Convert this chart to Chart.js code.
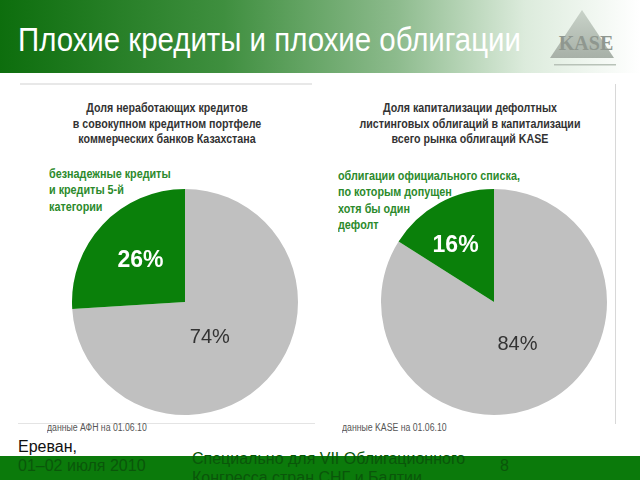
<!DOCTYPE html>
<html>
<head>
<meta charset="utf-8">
<script src="https://cdn.jsdelivr.net/npm/chart.js@4"></script>
<style>
  body { margin: 0; width: 640px; height: 480px; overflow: hidden; background: #fff; position: relative; font-family: "Liberation Sans", Arial, sans-serif; }
  .header { position: absolute; left: 0; top: 0; width: 640px; height: 73px;
    background: linear-gradient(to right, #0d6e0d 0%, #3f8f3f 35%, #8dbb8d 62%, #dcebdc 82%, #ffffff 100%); }
  .header h1 { position: absolute; left: 18px; top: 19px; margin: 0; font-family: "Liberation Sans", Arial, sans-serif;
    font-weight: normal; font-size: 34px; line-height: 40px; color: #fff; white-space: nowrap;
    transform: scaleX(0.865); transform-origin: left center; }
  .logo { position: absolute; left: 546px; top: 6px; width: 76px; height: 64px; }
  .hr { position: absolute; left: 20px; top: 83px; width: 292px; height: 2px; background: #e8e8e8; }
  .vr { position: absolute; left: 615px; top: 84px; width: 1px; height: 340px; background: #d8d8d8; }
  .bl { position: absolute; left: 18px; top: 423px; width: 297px; height: 1px; background: #e4e4e4; }
  .title { position: absolute; font-weight: bold; font-size: 13px; line-height: 15.5px; color: #333;
    text-align: center; white-space: nowrap; transform: scaleX(0.82); transform-origin: center top; }
  .note { position: absolute; font-weight: bold; font-size: 13px; line-height: 16.3px; color: #2c8a2c;
    white-space: nowrap; transform: scaleX(0.83); transform-origin: left top; }
  .src { position: absolute; font-size: 10px; color: #555; white-space: nowrap; transform: scaleX(0.87); transform-origin: left top; }
  canvas { position: absolute; }
  .footer { position: absolute; left: 0; top: 456px; width: 640px; height: 24px; background: #0b7a0b; }
  .ft { position: absolute; font-size: 16px; white-space: nowrap; line-height: 19px; }
</style>
</head>
<body>
<div class="header">
  <h1>Плохие кредиты и плохие облигации</h1>
  <svg class="logo" viewBox="0 0 76 64">
    <defs>
      <linearGradient id="tri" x1="0" y1="0" x2="0" y2="1">
        <stop offset="0" stop-color="#c9d3c9"/>
        <stop offset="1" stop-color="#a7b0a7"/>
      </linearGradient>
    </defs>
    <polygon points="36,4 68,52 4,52" fill="url(#tri)"/>
    <text x="40" y="44" text-anchor="middle" font-family="Liberation Serif, serif" font-size="20" fill="#8f978f" font-weight="bold">KASE</text>
    <rect x="8" y="58" width="62" height="1.5" fill="#b8c2b8"/>
  </svg>
</div>
<div class="hr"></div>
<div class="vr"></div>
<div class="bl"></div>

<div class="title" style="left:37px; top:100px; width:260px;">Доля неработающих кредитов<br>в совокупном кредитном портфеле<br>коммерческих банков Казахстана</div>
<div class="note" style="left:49px; top:166px;">безнадежные кредиты<br>и кредиты 5-й<br>категории</div>
<div class="title" style="left:330px; top:100px; width:280px;">Доля капитализации дефолтных<br>листинговых облигаций в капитализации<br>всего рынка облигаций KASE</div>
<div class="note" style="left:338px; top:168px;">облигации официального списка,<br>по которым допущен<br>хотя бы один<br>дефолт</div>

<canvas id="pieLeft" width="228" height="228" style="left:71px; top:188px;"></canvas>
<canvas id="pieRight" width="228" height="228" style="left:380px; top:188px;"></canvas>

<div class="src" style="left:47px; top:422px;">данные АФН на 01.06.10</div>
<div class="src" style="left:342px; top:422px;">данные KASE на 01.06.10</div>

<div class="footer"></div>
<div class="ft" style="left:18px; top:437px; color:#111;">Ереван,</div>
<div class="ft" style="left:18px; top:456px; color:#0a560a;">01–02 июля 2010</div>
<div class="ft" style="left:192px; top:449px; color:#0a560a;">Специально для VII Облигационного<br>Конгресса стран СНГ и Балтии</div>
<div class="ft" style="left:500px; top:456px; color:#0a560a;">8</div>

<script>
const leftLabels = ["прочие кредиты", "безнадежные кредиты и кредиты 5-й категории"];
const leftValues = [74, 26];
const rightLabels = ["прочие облигации", "облигации с дефолтом"];
const rightValues = [84, 16];
const sliceColors = ["#c0c0c0", "#0a800a"];

// draws "NN%" inside each slice
const pctLabels = {
  id: "pctLabels",
  afterDatasetsDraw(chart, args, opts) {
    const ctx = chart.ctx;
    const data = chart.data.datasets[0].data;
    chart.getDatasetMeta(0).data.forEach((arc, i) => {
      const p = arc.getProps(["x", "y", "startAngle", "endAngle", "outerRadius"], true);
      const mid = (p.startAngle + p.endAngle) / 2 + opts.shift[i];
      const r = p.outerRadius * opts.dist[i];
      ctx.save();
      ctx.font = opts.fonts[i];
      ctx.fillStyle = opts.colors[i];
      ctx.textAlign = "center";
      ctx.textBaseline = "middle";
      ctx.fillText(data[i] + "%", p.x + Math.cos(mid) * r, p.y + Math.sin(mid) * r);
      ctx.restore();
    });
  }
};

function makePie(id, labels, values, dist, shift) {
  return new Chart(document.getElementById(id), {
    type: "pie",
    data: {
      labels: labels,
      datasets: [{
        data: values,
        backgroundColor: sliceColors,
        borderWidth: 0,
      }],
    },
    options: {
      responsive: false,
      animation: false,
      layout: { padding: 1 },
      plugins: {
        legend: { display: false },
        tooltip: { enabled: false },
        pctLabels: {
          dist: dist,
          shift: shift,
          fonts: ["20px 'Liberation Sans', Arial, sans-serif", "bold 23px 'Liberation Sans', Arial, sans-serif"],
          colors: ["#333333", "#ffffff"],
        },
      },
    },
    plugins: [pctLabels],
  });
}

makePie("pieLeft", leftLabels, leftValues, [0.38, 0.54], [0.2, 0]);
makePie("pieRight", rightLabels, rightValues, [0.43, 0.6], [0, -0.1]);
</script>
</body>
</html>
